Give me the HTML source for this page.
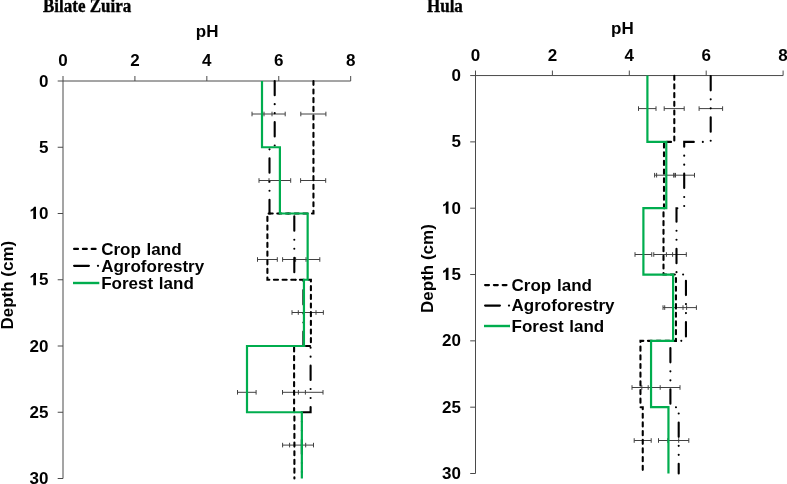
<!DOCTYPE html>
<html><head><meta charset="utf-8"><style>
html,body{margin:0;padding:0;background:#fff;width:787px;height:484px;overflow:hidden}
svg{display:block}
text{font-family:"Liberation Sans",sans-serif;font-weight:bold;font-size:17px;fill:#000}
.serif{font-family:"Liberation Serif",serif;stroke:#000;stroke-width:0.35px}
</style></head><body>
<svg width="787" height="484" viewBox="0 0 787 484">
<g>
<path d="M57.7 81 H350.7 M63 76 V478.5 M134.92 76 V81 M206.84 76 V81 M278.76 76 V81 M350.68 76 V81 M57.7 147.25 H63 M57.7 213.5 H63 M57.7 279.75 H63 M57.7 346 H63 M57.7 412.25 H63 M57.7 478.5 H63" stroke="#4a4a4a" stroke-width="1" fill="none"/>
<path d="M252 114 H285.2 M300.8 114 H325.9 M252 111.7 V116.3 M264 111.7 V116.3 M272 111.7 V116.3 M285.2 111.7 V116.3 M300.8 111.7 V116.3 M325.9 111.7 V116.3 M259 180.5 H290.7 M300.6 180.5 H325.7 M259 178.2 V182.8 M269 178.2 V182.8 M279.8 178.2 V182.8 M290.7 178.2 V182.8 M300.6 178.2 V182.8 M325.7 178.2 V182.8 M257.5 259.5 H277.3 M282.6 259.5 H319.8 M257.5 257.2 V261.8 M277.3 257.2 V261.8 M282.6 257.2 V261.8 M295.6 257.2 V261.8 M306 257.2 V261.8 M319.8 257.2 V261.8 M292 312.5 H323.35 M292 310.2 V314.8 M298.3 310.2 V314.8 M316 310.2 V314.8 M323.35 310.2 V314.8 M237.5 392.3 H256.1 M282.5 392.3 H323 M237.5 390 V394.6 M256.1 390 V394.6 M282.5 390 V394.6 M298.4 390 V394.6 M305.4 390 V394.6 M323 390 V394.6 M282.6 445.1 H313.5 M282.6 442.8 V447.4 M289.6 442.8 V447.4 M305.7 442.8 V447.4 M313.5 442.8 V447.4" stroke="#404040" stroke-width="1" fill="none"/>
<path d="M313.45 81 L313.45 147.25 L313.45 147.25 L313.45 213.5 L267.4 213.5 L267.4 279.75 L310.9 279.75 L310.9 346 L294.1 346 L294.1 412.25 L294.4 412.25 L294.4 478.5" stroke="#000" stroke-width="2.1" fill="none" stroke-linecap="round" stroke-dasharray="4.1 4.574" stroke-dashoffset="0.24"/>
<path d="M274.7 81 L274.7 147.25 L269.5 147.25 L269.5 213.5 L294.3 213.5 L294.3 279.75 L303.4 279.75 L303.4 346 L310.6 346 L310.6 412.25 L301.85 412.25 L301.85 478.5" stroke="#000" stroke-width="2.1" fill="none" stroke-linecap="round" stroke-dasharray="14.4 9 0 9 0 9" stroke-dashoffset="0.25"/>
<path d="M262 81 L262 147.25 L279.9 147.25 L279.9 213.5 L307.65 213.5 L307.65 279.75 L303.95 279.75 L303.95 346 L247 346 L247 412.25 L301.85 412.25 L301.85 478.5" stroke="#00ad4e" stroke-width="2.2" fill="none"/>
<path d="M74.15 248.9 H95.85" stroke="#000" stroke-width="2.3" stroke-linecap="round" stroke-dasharray="3.8 5"/>
<path d="M74.15 265.8 H88.85 M98 265.8 h0" stroke="#000" stroke-width="2.3" stroke-linecap="round"/>
<path d="M73 283 H99.3" stroke="#00ad4e" stroke-width="2.4"/>
<path d="M470.2 75.55 H783.1 M475.5 70.55 V473.5 M552.4 70.55 V75.55 M629.3 70.55 V75.55 M706.2 70.55 V75.55 M783.1 70.55 V75.55 M470.2 141.88 H475.5 M470.2 208.2 H475.5 M470.2 274.53 H475.5 M470.2 340.85 H475.5 M470.2 407.18 H475.5 M470.2 473.5 H475.5" stroke="#4a4a4a" stroke-width="1" fill="none"/>
<path d="M638.5 108.6 H656 M664.2 108.6 H684.2 M699.1 108.6 H722.6 M638.5 106.3 V110.9 M656 106.3 V110.9 M664.2 106.3 V110.9 M684.2 106.3 V110.9 M699.1 106.3 V110.9 M722.6 106.3 V110.9 M654.6 175.2 H694.5 M654.6 172.9 V177.5 M656.6 172.9 V177.5 M673.8 172.9 V177.5 M674 172.9 V177.5 M675.5 172.9 V177.5 M694.5 172.9 V177.5 M635 254.5 H651.75 M653.75 254.5 H686.3 M635 252.2 V256.8 M651.75 252.2 V256.8 M653.75 252.2 V256.8 M666.4 252.2 V256.8 M672.6 252.2 V256.8 M686.3 252.2 V256.8 M663 307.6 H696.4 M663 305.3 V309.9 M664.7 305.3 V309.9 M676 305.3 V309.9 M683 305.3 V309.9 M686.6 305.3 V309.9 M696.4 305.3 V309.9 M632 387.5 H680 M632 385.2 V389.8 M641.8 385.2 V389.8 M648.2 385.2 V389.8 M660.2 385.2 V389.8 M680 385.2 V389.8 M634.2 440.5 H651.2 M658.5 440.5 H688.8 M634.2 438.2 V442.8 M651.2 438.2 V442.8 M658.5 438.2 V442.8 M667.8 438.2 V442.8 M678.7 438.2 V442.8 M688.8 438.2 V442.8" stroke="#404040" stroke-width="1" fill="none"/>
<path d="M674.3 75.55 L674.3 141.88 L664 141.88 L664 208.2 L663.5 208.2 L663.5 274.53 L675.95 274.53 L675.95 340.85 L640.45 340.85 L640.45 407.18 L642.75 407.18 L642.75 473.5" stroke="#000" stroke-width="2.1" fill="none" stroke-linecap="round" stroke-dasharray="4.1 4.574" stroke-dashoffset="-0.2"/>
<path d="M710.7 75.55 L710.7 141.88 L684.2 141.88 L684.2 208.2 L676.5 208.2 L676.5 274.53 L685.95 274.53 L685.95 340.85 L670.4 340.85 L670.4 407.18 L678.7 407.18 L678.7 473.5" stroke="#000" stroke-width="2.1" fill="none" stroke-linecap="round" stroke-dasharray="14.4 9 0 9 0 9" stroke-dashoffset="-0.4"/>
<path d="M647.4 75.55 L647.4 141.88 L666.3 141.88 L666.3 208.2 L643.4 208.2 L643.4 274.53 L673.1 274.53 L673.1 340.85 L651.05 340.85 L651.05 407.18 L668.45 407.18 L668.45 473.5" stroke="#00ad4e" stroke-width="2.2" fill="none"/>
<path d="M485.15 285.1 H506.45" stroke="#000" stroke-width="2.3" stroke-linecap="round" stroke-dasharray="3.8 5"/>
<path d="M485.15 305.6 H499.85 M509 305.6 h0" stroke="#000" stroke-width="2.3" stroke-linecap="round"/>
<path d="M484 326 H510" stroke="#00ad4e" stroke-width="2.4"/>
</g>
<g style="opacity:0.999">
<text class="serif" transform="translate(43 11.85) scale(1 1.06)">Bilate Zuira</text>
<text x="195.8" y="37.3">pH</text>
<text x="63" y="66" text-anchor="middle">0</text>
<text x="134.92" y="66" text-anchor="middle">2</text>
<text x="206.84" y="66" text-anchor="middle">4</text>
<text x="278.76" y="66" text-anchor="middle">6</text>
<text x="350.68" y="66" text-anchor="middle">8</text>
<text x="48.5" y="86.55" text-anchor="end">0</text>
<text x="48.5" y="152.8" text-anchor="end">5</text>
<text x="48.5" y="219.05" text-anchor="end">0</text>
<path transform="translate(29.6 219.05)" d="M3.7 0H6.4V-12.25H4.5C4.1 -11.2 2.8 -9.9 1 -9.3V-7.2C2.1 -7.5 3 -8.1 3.7 -8.7Z"/>
<text x="48.5" y="285.3" text-anchor="end">5</text>
<path transform="translate(29.6 285.3)" d="M3.7 0H6.4V-12.25H4.5C4.1 -11.2 2.8 -9.9 1 -9.3V-7.2C2.1 -7.5 3 -8.1 3.7 -8.7Z"/>
<text x="48.5" y="351.55" text-anchor="end">20</text>
<text x="48.5" y="417.8" text-anchor="end">25</text>
<text x="48.5" y="484.05" text-anchor="end">30</text>
<text transform="translate(12.8 285.2) rotate(-90)" text-anchor="middle">Depth (cm)</text>
<text x="101.2" y="254.8" word-spacing="1">Crop land</text>
<text x="101.2" y="271.8" word-spacing="1">Agroforestry</text>
<text x="101.2" y="288.8" word-spacing="1">Forest land</text>
<text class="serif" transform="translate(427 11.85) scale(1 1.06)">Hula</text>
<text x="611.1" y="33.8">pH</text>
<text x="475.5" y="61" text-anchor="middle">0</text>
<text x="552.4" y="61" text-anchor="middle">2</text>
<text x="629.3" y="61" text-anchor="middle">4</text>
<text x="706.2" y="61" text-anchor="middle">6</text>
<text x="783.1" y="61" text-anchor="middle">8</text>
<text x="461" y="81.1" text-anchor="end">0</text>
<text x="461" y="147.43" text-anchor="end">5</text>
<text x="461" y="213.75" text-anchor="end">0</text>
<path transform="translate(442.1 213.75)" d="M3.7 0H6.4V-12.25H4.5C4.1 -11.2 2.8 -9.9 1 -9.3V-7.2C2.1 -7.5 3 -8.1 3.7 -8.7Z"/>
<text x="461" y="280.08" text-anchor="end">5</text>
<path transform="translate(442.1 280.08)" d="M3.7 0H6.4V-12.25H4.5C4.1 -11.2 2.8 -9.9 1 -9.3V-7.2C2.1 -7.5 3 -8.1 3.7 -8.7Z"/>
<text x="461" y="346.4" text-anchor="end">20</text>
<text x="461" y="412.73" text-anchor="end">25</text>
<text x="461" y="479.05" text-anchor="end">30</text>
<text transform="translate(432.6 268.6) rotate(-90)" text-anchor="middle">Depth (cm)</text>
<text x="511.6" y="290.6" word-spacing="1">Crop land</text>
<text x="511.6" y="310.8" word-spacing="1">Agroforestry</text>
<text x="511.6" y="331.6" word-spacing="1">Forest land</text>
</g>
</svg>
</body></html>
